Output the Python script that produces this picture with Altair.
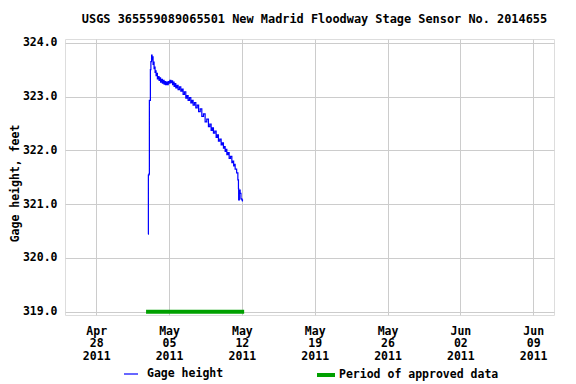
import altair as alt
import pandas as pd

FONT = "DejaVu Sans Mono"

# Gage height readings (local time, feet)
times = [
    "2011-05-03T00:18", "2011-05-03T00:20", "2011-05-03T01:28", "2011-05-03T02:38",
    "2011-05-03T04:56", "2011-05-03T06:06", "2011-05-03T07:43", "2011-05-03T08:52",
    "2011-05-03T10:01", "2011-05-03T11:10", "2011-05-03T12:20", "2011-05-03T13:28",
    "2011-05-03T14:40", "2011-05-03T15:47", "2011-05-03T17:00", "2011-05-03T18:05",
    "2011-05-03T19:30", "2011-05-03T21:05", "2011-05-03T23:00", "2011-05-04T01:01",
    "2011-05-04T02:45", "2011-05-04T04:29", "2011-05-04T06:30", "2011-05-04T08:38",
    "2011-05-04T10:30", "2011-05-04T12:34", "2011-05-04T14:20", "2011-05-04T16:02",
    "2011-05-04T18:00", "2011-05-04T20:11", "2011-05-04T22:10", "2011-05-05T00:07",
    "2011-05-05T02:00", "2011-05-05T04:03", "2011-05-05T06:10", "2011-05-05T08:12",
    "2011-05-05T10:00", "2011-05-05T11:40", "2011-05-05T13:40", "2011-05-05T15:35",
    "2011-05-05T18:10", "2011-05-05T20:54", "2011-05-06T00:00", "2011-05-06T03:07",
    "2011-05-06T05:45", "2011-05-06T08:26", "2011-05-06T11:30", "2011-05-06T14:40",
    "2011-05-06T17:20", "2011-05-06T20:00", "2011-05-06T23:05", "2011-05-07T02:13",
    "2011-05-07T04:50", "2011-05-07T07:32", "2011-05-07T10:40", "2011-05-07T13:46",
    "2011-05-07T17:00", "2011-05-07T20:13", "2011-05-07T23:55", "2011-05-08T03:36",
    "2011-05-08T07:25", "2011-05-08T11:13", "2011-05-08T15:00", "2011-05-08T18:52",
    "2011-05-08T22:00", "2011-05-09T01:05", "2011-05-09T03:45", "2011-05-09T06:24",
    "2011-05-09T09:30", "2011-05-09T12:37", "2011-05-09T15:15", "2011-05-09T17:56",
    "2011-05-09T21:00", "2011-05-10T00:10", "2011-05-10T02:50", "2011-05-10T05:28",
    "2011-05-10T07:25", "2011-05-10T09:24", "2011-05-10T11:20", "2011-05-10T13:20",
    "2011-05-10T16:00", "2011-05-10T18:39", "2011-05-10T21:45", "2011-05-11T00:52",
    "2011-05-11T03:00", "2011-05-11T05:01", "2011-05-11T06:45", "2011-05-11T08:29",
    "2011-05-11T11:57", "2011-05-11T14:44", "2011-05-11T16:07", "2011-05-11T16:35",
    "2011-05-11T18:12", "2011-05-11T20:02", "2011-05-11T21:53", "2011-05-12T00:00",
    "2011-05-12T01:21",
]
stage = [
    320.44, 321.54, 321.56, 322.93,
    323.50, 323.65, 323.77, 323.68,
    323.74, 323.60, 323.64, 323.52,
    323.55, 323.45, 323.48, 323.39,
    323.43, 323.33, 323.37, 323.30,
    323.35, 323.27, 323.32, 323.25,
    323.30, 323.23, 323.28, 323.22,
    323.27, 323.22, 323.28, 323.25,
    323.30, 323.26, 323.29, 323.22,
    323.27, 323.19, 323.24, 323.16,
    323.21, 323.13, 323.18, 323.10,
    323.14, 323.04, 323.09, 322.97,
    323.02, 322.93, 322.98, 322.88,
    322.93, 322.84, 322.89, 322.79,
    322.84, 322.72, 322.77, 322.63,
    322.68, 322.53, 322.58, 322.44,
    322.49, 322.37, 322.42, 322.32,
    322.36, 322.24, 322.29, 322.17,
    322.21, 322.10, 322.14, 322.04,
    322.07, 321.98, 322.02, 321.92,
    321.96, 321.85, 321.89, 321.77,
    321.80, 321.71, 321.74, 321.65,
    321.58, 321.45, 321.29, 321.08,
    321.26, 321.20, 321.10, 321.08,
    321.05,
]

# Period of approved data
approved_start = ["2011-05-02T19:00"]
approved_end = ["2011-05-12T05:15"]
approved_level = [319.0]

y_ticks = [319.0, 320.0, 321.0, 322.0, 323.0, 324.0]
x_tick_dates = [(2011, 4, 28), (2011, 5, 5), (2011, 5, 12), (2011, 5, 19),
                (2011, 5, 26), (2011, 6, 2), (2011, 6, 9)]
x_domain = [(2011, 4, 25), (2011, 6, 11)]
y_domain = [318.94, 324.07]

line_df = pd.DataFrame({"time": times, "stage": stage,
                        "series": ["Gage height"] * len(times)})
appr_df = pd.DataFrame({"start": approved_start, "end": approved_end,
                        "level": approved_level,
                        "series": ["Period of approved data"]})

dt = lambda t: alt.DateTime(year=t[0], month=t[1], date=t[2])

x_scale = alt.Scale(domain=[dt(d) for d in x_domain], nice=False)
y_scale = alt.Scale(domain=y_domain, nice=False, zero=False)

x_axis = alt.Axis(
    values=[dt(d) for d in x_tick_dates],
    labelExpr="[timeFormat(datum.value, '%b'), timeFormat(datum.value, '%d'), timeFormat(datum.value, '%Y')]",
    grid=True, gridColor="#cccccc", ticks=False, domain=False,
    labelFont=FONT, labelFontWeight="bold", labelFontSize=11.5,
    labelPadding=10, labelLineHeight=12.5, labelFlush=False, labelOverlap=False,
    labelColor="black", title=None,
)
y_axis = alt.Axis(
    values=y_ticks, format=".1f",
    grid=True, gridColor="#cccccc", ticks=False, domain=False,
    labelFont=FONT, labelFontWeight="bold", labelFontSize=11.5,
    labelPadding=8, labelColor="black",
    title="Gage height, feet", titleFont=FONT, titleFontWeight="bold",
    titleFontSize=11.5, titleColor="black", titleAngle=-90,
    titleX=-50, titleY=144, titleAlign="center", titleBaseline="middle",
)

line = alt.Chart(line_df).mark_line(strokeWidth=1.2, interpolate="step-after").encode(
    x=alt.X("time:T", scale=x_scale, axis=x_axis),
    y=alt.Y("stage:Q", scale=y_scale, axis=y_axis),
    color=alt.Color("series:N",
                    scale=alt.Scale(domain=["Gage height"], range=["#0000ff"]),
                    legend=alt.Legend(orient="none", legendX=58, legendY=327,
                                      symbolType="stroke", symbolSize=196,
                                      symbolStrokeWidth=1.2,
                                      symbolStrokeColor="#0000ff", labelOffset=8,
                                      padding=0, title=None, labelFont=FONT,
                                      labelFontWeight="bold", labelFontSize=11.5,
                                      labelColor="black")),
)

appr = alt.Chart(appr_df).mark_rule(strokeWidth=4).encode(
    x=alt.X("start:T", scale=x_scale),
    x2="end:T",
    y=alt.Y("level:Q", scale=y_scale),
    color=alt.Color("series:N",
                    scale=alt.Scale(domain=["Period of approved data"], range=["#00a000"]),
                    legend=alt.Legend(orient="none", legendX=250, legendY=325,
                                      symbolType="stroke", symbolSize=324,
                                      symbolStrokeWidth=4,
                                      symbolStrokeColor="#00a000", labelOffset=2,
                                      padding=0, title=None, labelFont=FONT,
                                      labelFontWeight="bold", labelFontSize=11.5,
                                      labelColor="black")),
)

chart = alt.layer(appr, line).resolve_scale(color="independent").properties(
    width=489, height=276,
    autosize=alt.AutoSizeParams(type="none"),
    padding={"left": 57, "top": 31, "right": 14, "bottom": 68},
    title=alt.TitleParams(
        text="USGS 365559089065501 New Madrid Floodway Stage Sensor No. 2014655",
        font=FONT, fontSize=11.9, fontWeight="bold", anchor="middle",
        offset=11, dx=5, color="black"),
).configure_view(stroke="black", strokeWidth=1).configure(background="white")

chart.save("out.html", embed_options={"renderer": "svg", "actions": False})
